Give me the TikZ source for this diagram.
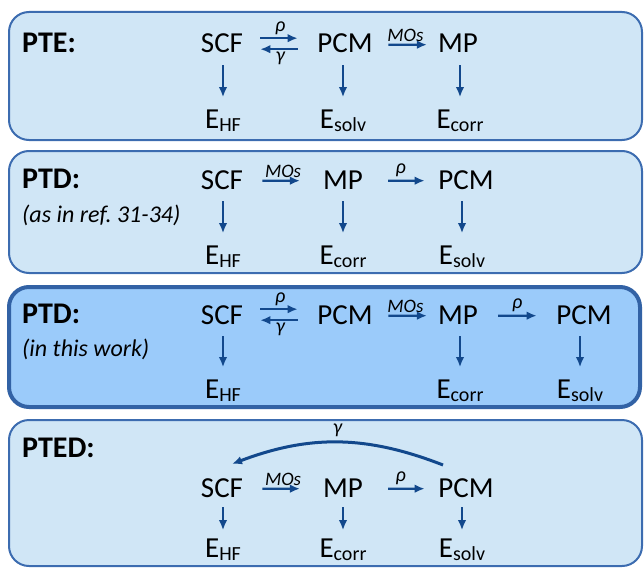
\documentclass[tikz,border=0pt]{standalone}
\usepackage{fontspec}
\setmainfont{Carlito}
\usetikzlibrary{arrows.meta}

\definecolor{panelfill}{RGB}{208,230,246}
\definecolor{panelline}{RGB}{60,108,176}
\definecolor{hifill}{RGB}{155,203,250}
\definecolor{hiline}{RGB}{50,98,165}
\definecolor{flow}{RGB}{18,72,140}

% energy symbol with a lowered upright subscript
\newcommand\enlabel[1]{E\raisebox{-3.5pt}{\fontsize{20}{20}\selectfont #1}}

\tikzset{
  panel/.style={draw=panelline, fill=panelfill, line width=2pt, rounded corners=20pt},
  hipanel/.style={draw=hiline, fill=hifill, line width=4pt, rounded corners=20pt},
  stage/.style={anchor=base, inner sep=0pt, font=\fontsize{29}{29}\selectfont},
  energy/.style={anchor=base, inner sep=0pt, font=\fontsize{29}{29}\selectfont},
  title/.style={anchor=base west, inner sep=0pt, font=\fontsize{30}{30}\selectfont\bfseries},
  note/.style={anchor=base west, inner sep=0pt, font=\fontsize{24}{24}\selectfont\itshape},
  flowarrow/.style={draw=flow, line width=2.2pt, -{Latex[length=10pt,width=8.5pt]}},
  down/.style={flowarrow, shorten <=12pt, shorten >=12pt},
  shortdown/.style={flowarrow, shorten <=10pt, shorten >=8pt},
  across/.style 2 args={flowarrow, shorten <=#1pt, shorten >=#2pt},
  tag/.style={font=\fontsize{20}{20}\selectfont\itshape, inner sep=2.5pt},
  mos/.style={font=\fontsize{19}{19}\selectfont\itshape, inner sep=1.5pt},
}

\begin{document}
\begin{tikzpicture}[x=1pt, y=-1pt]
\useasboundingbox (0,0) rectangle (644,567);

% ---------- PTE ----------
\draw[panel] (9,12) rectangle (642,140);
\node[title] (tA) at (22,53) {PTE:};
\node[stage] (scfA) at (222,53) {SCF};
\node[stage] (pcmA) at (345,53) {PCM};
\node[stage] (mpA)  at (458,53) {MP};
\node[energy] (ehfA) at (223,128) {\enlabel{HF}};
\node[energy] (esolvA) at (343,128) {\enlabel{solv}};
\node[energy] (ecorrA) at (460,128) {\enlabel{corr}};
\draw[across={17}{19.5}] ([yshift=5.5pt]scfA.east) -- node[tag, above] {ρ} ([yshift=5.5pt]pcmA.west);
\draw[across={19.5}{17}] ([yshift=-5.5pt]pcmA.west) -- node[tag, below, inner sep=1.5pt] {γ} ([yshift=-5.5pt]scfA.east);
\draw[across={15.5}{11}] ([yshift=-1pt]pcmA.east) -- node[mos, above] {MOs} ([yshift=-1pt]mpA.west);
\draw[down] (scfA.south -| ehfA.north) -- (ehfA.north);
\draw[down] (pcmA.south -| esolvA.north) -- (esolvA.north);
\draw[down] (mpA.south -| ecorrA.north) -- (ecorrA.north);

% ---------- PTD (ref. 31-34) ----------
\draw[panel] (9,151) rectangle (642,273);
\node[title] (tB) at (22,188) {PTD:};
\node[note] (nB) at (22,222) {(as in ref.\ 31-34)};
\node[stage] (scfB) at (222,189) {SCF};
\node[stage] (mpB)  at (343,189) {MP};
\node[stage] (pcmB) at (466,189) {PCM};
\node[energy] (ehfB) at (223,264) {\enlabel{HF}};
\node[energy] (ecorrB) at (343,264) {\enlabel{corr}};
\node[energy] (esolvB) at (462,264) {\enlabel{solv}};
\draw[across={19}{23}] ([yshift=-1pt]scfB.east) -- node[mos, above] {MOs} ([yshift=-1pt]mpB.west);
\draw[across={25}{13.5}] ([yshift=-1pt]mpB.east) -- node[tag, above] {ρ} ([yshift=-1pt]pcmB.west);
\draw[down] (scfB.south -| ehfB.north) -- (ehfB.north);
\draw[down] (mpB.south -| ecorrB.north) -- (ecorrB.north);
\draw[down] (pcmB.south -| esolvB.north) -- (esolvB.north);

% ---------- PTD (this work) ----------
\draw[hipanel] (9,287) rectangle (640,407);
\node[title] (tC) at (22,323) {PTD:};
\node[note] (nC) at (22,356) {(in this work)};
\node[stage] (scfC) at (222,324) {SCF};
\node[stage] (pcmC) at (345,324) {PCM};
\node[stage] (mpC)  at (458,324) {MP};
\node[stage] (pcmCC) at (584,324) {PCM};
\node[energy] (ehfC) at (223,398) {\enlabel{HF}};
\node[energy] (ecorrC) at (460,398) {\enlabel{corr}};
\node[energy] (esolvC) at (580,398) {\enlabel{solv}};
\draw[across={17}{19.5}] ([yshift=5.5pt]scfC.east) -- node[tag, above] {ρ} ([yshift=5.5pt]pcmC.west);
\draw[across={19.5}{17}] ([yshift=-5.5pt]pcmC.west) -- node[tag, below, inner sep=1.5pt] {γ} ([yshift=-5.5pt]scfC.east);
\draw[across={15.5}{11}] ([yshift=-1pt]pcmC.east) -- node[mos, above] {MOs} ([yshift=-1pt]mpC.west);
\draw[across={20}{19.5}] ([yshift=-1pt]mpC.east) -- node[tag, above] {ρ} ([yshift=-1pt]pcmCC.west);
\draw[down] (scfC.south -| ehfC.north) -- (ehfC.north);
\draw[down] (mpC.south -| ecorrC.north) -- (ecorrC.north);
\draw[down] (pcmCC.south -| esolvC.north) -- (esolvC.north);

% ---------- PTED ----------
\draw[panel] (9,420) rectangle (642,566);
\node[title] (tD) at (22,457) {PTED:};
\node[stage] (scfD) at (222,497) {SCF};
\node[stage] (mpD)  at (343,497) {MP};
\node[stage] (pcmD) at (466,497) {PCM};
\node[energy] (ehfD) at (223,557) {\enlabel{HF}};
\node[energy] (ecorrD) at (343,557) {\enlabel{corr}};
\node[energy] (esolvD) at (462,557) {\enlabel{solv}};
\draw[across={19}{23}] ([yshift=-1pt]scfD.east) -- node[mos, above] {MOs} ([yshift=-1pt]mpD.west);
\draw[across={25}{13.5}] ([yshift=-1pt]mpD.east) -- node[tag, above] {ρ} ([yshift=-1pt]pcmD.west);
\draw[shortdown] (scfD.south -| ehfD.north) -- (ehfD.north);
\draw[shortdown] (mpD.south -| ecorrD.north) -- (ecorrD.north);
\draw[shortdown] (pcmD.south -| esolvD.north) -- (esolvD.north);
\draw[flowarrow, line width=3pt] ([xshift=-23pt, yshift=13pt]pcmD.north) to[bend right=21] node[tag, above, inner sep=4pt] {γ} ([xshift=10pt, yshift=14pt]scfD.north);
\end{tikzpicture}
\end{document}
